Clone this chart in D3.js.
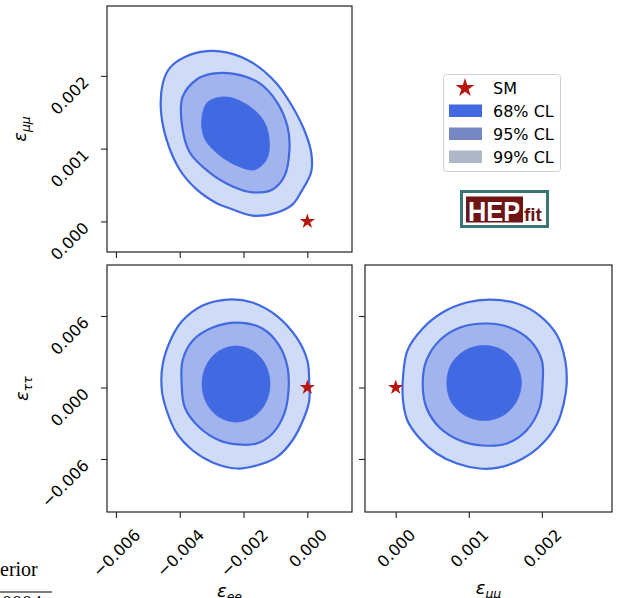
<!DOCTYPE html>
<html>
<head>
<meta charset="utf-8">
<script src="https://cdn.jsdelivr.net/npm/d3@7"></script>
<style>
  body { margin: 0; background: #fff; }
  svg { display: block; }
</style>
</head>
<body>
<svg id="chart" width="625" height="598"></svg>
<script>
// tick values for the three parameters
const eeTicks = [-0.006, -0.004, -0.002, 0.000];
const mmTicks = [0.000, 0.001, 0.002];
const ttTicks = [-0.006, 0.000, 0.006];

// axis ranges
const eeDomain = [-0.00628, 0.0014];
const mmDomain = [-0.00042, 0.00296];
const ttDomain = [-0.01045, 0.01028];

// SM point (eps_ee, eps_mumu, eps_tautau)
const smPoint = [0, 0, 0];

const levels = ["68% CL", "95% CL", "99% CL"];

// contour outlines, [x, y] in data units
// panel eps_ee vs eps_mumu
const ee_mm_99 = [[-0.00316,0.00234],[-0.0025,0.00232],[-0.00172,0.00218],[-0.00097,0.0019],[-0.00047,0.00158],[-0.0001,0.00126],[0.00012,0.00095],[0.00012,0.00068],[-0.00019,0.00041],[-0.00047,0.00023],[-0.00097,0.00012],[-0.00172,0.00008],[-0.00244,0.00018],[-0.00284,0.00025],[-0.00347,0.00044],[-0.004,0.00071],[-0.00441,0.00112],[-0.00459,0.00153],[-0.00453,0.0019],[-0.00431,0.00211],[-0.00384,0.00226]];
const ee_mm_95 = [[-0.00234,0.00203],[-0.0015,0.0019],[-0.00094,0.00163],[-0.00062,0.0013],[-0.00056,0.00099],[-0.00072,0.00062],[-0.00109,0.00044],[-0.00172,0.0004],[-0.00234,0.00048],[-0.00306,0.00067],[-0.00369,0.00095],[-0.00394,0.00136],[-0.00391,0.00171],[-0.00347,0.00195],[-0.00297,0.00203]];
const ee_mm_68 = [[-0.00253,0.00171],[-0.00181,0.00158],[-0.00134,0.00136],[-0.00119,0.00108],[-0.00128,0.00085],[-0.00165,0.00071],[-0.00212,0.00075],[-0.00275,0.00091],[-0.00322,0.00114],[-0.00331,0.0014],[-0.00312,0.00164]];

// panel eps_ee vs eps_tautau
const ee_tt_99 = [[-0.0025,0.00738],[-0.00172,0.00713],[-0.00097,0.00604],[-0.00034,0.0042],[0.0,0.00227],[0.00006,0.00034],[0.00006,-0.00109],[-0.0001,-0.00252],[-0.00047,-0.00445],[-0.00097,-0.00587],[-0.00159,-0.00655],[-0.00222,-0.0068],[-0.00297,-0.00629],[-0.00359,-0.00529],[-0.00409,-0.00386],[-0.00441,-0.00193],[-0.00456,-0.00025],[-0.00453,0.00201],[-0.00425,0.0042],[-0.00391,0.00562],[-0.00328,0.00688]];
const ee_tt_95 = [[-0.00219,0.00545],[-0.00141,0.00495],[-0.00088,0.00352],[-0.00062,0.00168],[-0.00059,-0.00025],[-0.00072,-0.00218],[-0.00109,-0.00386],[-0.00159,-0.0047],[-0.00219,-0.00478],[-0.00275,-0.00445],[-0.00338,-0.00336],[-0.00384,-0.00168],[-0.00394,0.00034],[-0.00391,0.00227],[-0.00359,0.00394],[-0.00297,0.00503]];
const ee_tt_68 = [[-0.00117,0.00029],[-0.00131,0.00189],[-0.0017,0.00306],[-0.00223,0.00348],[-0.00277,0.00306],[-0.00316,0.00189],[-0.0033,0.00029],[-0.00316,-0.0013],[-0.00277,-0.00247],[-0.00223,-0.0029],[-0.0017,-0.00247],[-0.00131,-0.0013]];

// panel eps_mumu vs eps_tautau
const mm_tt_99 = [[0.00129,0.00738],[0.00166,0.00705],[0.00197,0.00604],[0.00221,0.00436],[0.00232,0.00227],[0.00234,0.00034],[0.0023,-0.00134],[0.00221,-0.00302],[0.00201,-0.0047],[0.00174,-0.00596],[0.00142,-0.00671],[0.00115,-0.0068],[0.00084,-0.00638],[0.00056,-0.00554],[0.00033,-0.00428],[0.00016,-0.00277],[0.0001,-0.00109],[0.0001,0.00084],[0.00016,0.0031],[0.00037,0.00495],[0.00064,0.00629],[0.00097,0.00713]];
const mm_tt_95 = [[0.00125,0.00537],[0.00156,0.00503],[0.00184,0.00394],[0.002,0.00227],[0.00201,0.00034],[0.00197,-0.00168],[0.00179,-0.00361],[0.00152,-0.0047],[0.00119,-0.00487],[0.00088,-0.00445],[0.0006,-0.00336],[0.00042,-0.00168],[0.00037,0.00034],[0.00042,0.00227],[0.0006,0.00394],[0.00088,0.00503]];
const mm_tt_68 = [[0.00172,0.00038],[0.00165,0.00195],[0.00147,0.00311],[0.00121,0.00352],[0.00095,0.00311],[0.00076,0.00195],[0.0007,0.00038],[0.00076,-0.0012],[0.00095,-0.00235],[0.00121,-0.00277],[0.00147,-0.00235],[0.00165,-0.0012]];

const fillCol = { "68% CL": "#4169e1", "95% CL": "#a1b4ed", "99% CL": "#d0dbf6" };
const legendCol = { "68% CL": "#4169e1", "95% CL": "#7787c3", "99% CL": "#b0b7c7" };
const lineCol = "#4169e1";
const starCol = "#b8160c";
const tickFont = "'DejaVu Sans', sans-serif";
const tickSize = 16;

const svg = d3.select("#chart");

// panel boxes
const left = 107, right = 352, left2 = 365, right2 = 612;
const top1 = 6, bot1 = 252, top2 = 265, bot2 = 512;

const xee = d3.scaleLinear().domain(eeDomain).range([left, right]);
const xmm = d3.scaleLinear().domain(mmDomain).range([left2, right2]);
const ymm = d3.scaleLinear().domain(mmDomain).range([bot1, top1]);
const ytt = d3.scaleLinear().domain(ttDomain).range([bot2, top2]);

const fmt = d3.format(".3f");

function drawPanel(x, y, c99, c95, c68, sx, sy, xLabels, yLabels) {
  const g = svg.append("g");
  const line = d3.line().x(d => x(d[0])).y(d => y(d[1])).curve(d3.curveCatmullRomClosed);

  g.append("path").attr("d", line(c99)).attr("fill", fillCol["99% CL"])
    .attr("stroke", lineCol).attr("stroke-width", 2.2);
  g.append("path").attr("d", line(c95)).attr("fill", fillCol["95% CL"])
    .attr("stroke", lineCol).attr("stroke-width", 2.2);
  g.append("path").attr("d", line(c68)).attr("fill", fillCol["68% CL"])
    .attr("stroke", fillCol["68% CL"]).attr("stroke-width", 0.8);

  g.append("path")
    .attr("d", d3.symbol().type(d3.symbolStar).size(72)())
    .attr("transform", `translate(${x(sx)},${y(sy)})`)
    .attr("fill", starCol);

  const [x0, x1] = x.range();
  const [y0, y1] = y.range();

  // bottom axis, labels rotated 45 degrees
  const ax = g.append("g").attr("transform", `translate(0,${y0})`)
    .call(d3.axisBottom(x).tickValues(xLabels.vals).tickSize(6).tickSizeOuter(0).tickFormat(fmt));
  ax.select(".domain").remove();
  ax.selectAll(".tick line").attr("stroke", "#222").attr("stroke-width", 1.1);
  if (xLabels.show) {
    ax.selectAll(".tick text")
      .attr("font-family", tickFont).attr("font-size", tickSize).attr("fill", "#000")
      .attr("x", 0).attr("y", 0).attr("dy", null).attr("text-anchor", "end")
      .each(function () {
        const w = this.getComputedTextLength();
        d3.select(this).attr("transform", `translate(${0.354 * w + 4.1},24) rotate(-45)`);
      });
  } else {
    ax.selectAll(".tick text").remove();
  }

  // left axis
  const ay = g.append("g").attr("transform", `translate(${x0},0)`)
    .call(d3.axisLeft(y).tickValues(yLabels.vals).tickSize(6).tickSizeOuter(0).tickFormat(fmt));
  ay.select(".domain").remove();
  ay.selectAll(".tick line").attr("stroke", "#222").attr("stroke-width", 1.1);
  if (yLabels.show) {
    ay.selectAll(".tick text")
      .attr("font-family", tickFont).attr("font-size", tickSize).attr("fill", "#000")
      .attr("x", 0).attr("y", 0).attr("dy", null).attr("text-anchor", "end")
      .attr("transform", "translate(-17,7) rotate(-45)");
  } else {
    ay.selectAll(".tick text").remove();
  }

  g.append("rect")
    .attr("x", x0).attr("y", y1).attr("width", x1 - x0).attr("height", y0 - y1)
    .attr("fill", "none").attr("stroke", "#222").attr("stroke-width", 1.2);
}

drawPanel(xee, ymm, ee_mm_99, ee_mm_95, ee_mm_68, smPoint[0], smPoint[1],
  { vals: eeTicks, show: false }, { vals: mmTicks, show: true });
drawPanel(xee, ytt, ee_tt_99, ee_tt_95, ee_tt_68, smPoint[0], smPoint[2],
  { vals: eeTicks, show: true }, { vals: ttTicks, show: true });
drawPanel(xmm, ytt, mm_tt_99, mm_tt_95, mm_tt_68, smPoint[1], smPoint[2],
  { vals: mmTicks, show: true }, { vals: ttTicks, show: false });

// axis labels (epsilon with subscript)
function mathLabel(x, y, sub, rot) {
  const t = svg.append("text")
    .attr("transform", `translate(${x},${y}) rotate(${rot})`)
    .attr("text-anchor", "middle")
    .attr("font-family", "'DejaVu Sans', sans-serif")
    .attr("font-style", "italic")
    .attr("font-size", 18);
  t.append("tspan").text("ε");
  t.append("tspan").attr("font-size", 12.5).attr("dy", 4).text(sub);
}
mathLabel((left + right) / 2, 597, "ee", 0);
mathLabel((left2 + right2) / 2, 594, "μμ", 0);
mathLabel(26, (top1 + bot1) / 2, "μμ", -90);
mathLabel(28, (top2 + bot2) / 2, "ττ", -90);

// legend
const lg = svg.append("g");
lg.append("rect").attr("x", 443.5).attr("y", 74.5).attr("width", 117).attr("height", 97)
  .attr("rx", 3).attr("fill", "#fff").attr("stroke", "#d0d0d0").attr("stroke-width", 1);
lg.append("path")
  .attr("d", d3.symbol().type(d3.symbolStar).size(110)())
  .attr("transform", "translate(465,88)")
  .attr("fill", starCol);
lg.append("text").attr("x", 493).attr("y", 93.5)
  .attr("font-family", tickFont).attr("font-size", 16).text("SM");
levels.forEach((lev, i) => {
  const cy = 110.5 + i * 23;
  lg.append("rect").attr("x", 449).attr("y", cy - 6).attr("width", 33).attr("height", 12.5)
    .attr("fill", legendCol[lev]);
  lg.append("text").attr("x", 493).attr("y", cy + 6)
    .attr("font-family", tickFont).attr("font-size", 16).text(lev);
});

// HEPfit logo
const logo = svg.append("g");
logo.append("rect").attr("x", 461.5).attr("y", 191.5).attr("width", 86).attr("height", 35)
  .attr("fill", "#fff").attr("stroke", "#3b7573").attr("stroke-width", 3);
logo.append("rect").attr("x", 466).attr("y", 196.5).attr("width", 57).attr("height", 26)
  .attr("fill", "#6e1414");
logo.append("text").attr("x", 468).attr("y", 220.5)
  .attr("font-family", "'Liberation Sans', Arial, sans-serif").attr("font-weight", "bold")
  .attr("font-size", 28).attr("fill", "#fff")
  .attr("textLength", 52).attr("lengthAdjust", "spacingAndGlyphs").text("HEP");
logo.append("text").attr("x", 524).attr("y", 221)
  .attr("font-family", "'Liberation Sans', Arial, sans-serif").attr("font-weight", "bold")
  .attr("font-size", 19).attr("fill", "#6e1414").text("fit");

// cut-off text in the lower left corner
svg.append("text").attr("x", 0).attr("y", 576)
  .attr("font-family", "'Liberation Serif', serif").attr("font-size", 20).text("erior");
svg.append("line").attr("x1", 0).attr("x2", 52).attr("y1", 592).attr("y2", 592)
  .attr("stroke", "#000").attr("stroke-width", 1);
svg.append("text").attr("x", 2).attr("y", 610)
  .attr("font-family", "'Liberation Serif', serif").attr("font-size", 20).text("0004");
</script>
</body>
</html>
